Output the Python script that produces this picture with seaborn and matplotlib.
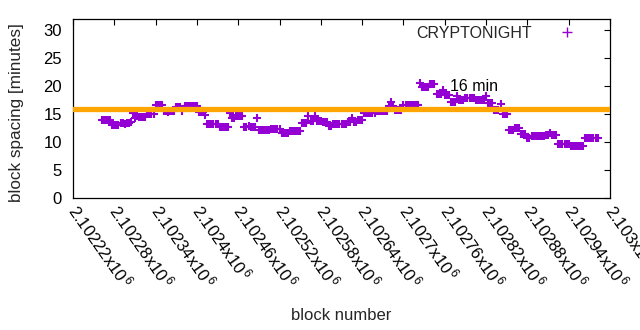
import numpy as np
import pandas as pd
import matplotlib
matplotlib.use("Agg")
import matplotlib.pyplot as plt
import matplotlib.ticker as mticker
from matplotlib.lines import Line2D
import seaborn as sns

# ---- data ----
first_block = 2102262
block_step = 3
spacing_minutes = [
    14.0, 14.0, 14.0, 14.0, 14.0, 13.0, 13.0, 13.0, 13.0, 13.4,
    13.4, 13.3, 13.4, 13.4, 13.5, 15.2, 14.3, 14.6, 14.5, 14.4,
    14.5, 14.5, 15.0, 15.0, 15.0, 15.0, 16.6, 16.6, 16.6, 16.6,
    15.5, 15.5, 15.4, 15.5, 15.5, 15.5, 16.3, 16.3, 16.3, 15.6,
    16.5, 16.5, 16.5, 16.5, 16.5, 16.5, 16.5, 15.4, 15.4, 15.4,
    14.8, 13.2, 13.2, 13.2, 13.2, 13.2, 13.2, 12.7, 12.7, 12.7,
    12.7, 12.7, 15.2, 14.3, 14.3, 14.6, 14.6, 14.6, 14.6, 12.7,
    12.7, 12.8, 12.7, 12.7, 12.7, 14.3, 12.1, 12.1, 12.1, 12.1,
    12.1, 12.1, 12.3, 12.3, 12.3, 12.3, 12.3, 11.6, 11.6, 11.6,
    11.6, 12.0, 12.0, 12.0, 12.0, 12.0, 12.0, 13.4, 13.4, 13.4,
    14.6, 13.8, 13.8, 14.6, 13.8, 13.8, 13.8, 13.5, 13.5, 13.5,
    12.9, 12.9, 13.3, 13.3, 13.3, 13.3, 13.3, 13.3, 13.3, 13.5,
    13.5, 14.3, 13.6, 13.6, 14.0, 14.0, 14.0, 15.2, 15.2, 15.2,
    15.2, 15.2, 15.2, 15.5, 15.5, 15.5, 15.5, 15.5, 15.5, 16.5,
    17.1, 16.5, 15.7, 15.7, 15.7, 15.7, 16.7, 16.7, 16.7, 16.7,
    16.7, 16.7, 16.7, 16.7, 20.5, 19.8, 19.8, 19.8, 19.8, 20.3,
    20.3, 20.3, 18.6, 18.6, 18.6, 19.3, 18.4, 18.4, 18.4, 17.2,
    17.2, 17.2, 18.2, 17.5, 17.5, 17.5, 17.9, 17.9, 17.9, 17.9,
    17.9, 17.6, 17.6, 17.6, 17.6, 17.6, 18.3, 17.0, 17.0, 17.0,
    15.7, 15.7, 15.7, 16.8, 15.1, 15.1, 15.1, 12.1, 12.1, 12.1,
    12.6, 12.6, 12.6, 11.4, 11.4, 11.4, 10.8, 10.8, 11.1, 11.1,
    11.1, 11.1, 11.1, 11.1, 11.1, 11.3, 11.3, 11.7, 11.3, 11.3,
    11.3, 9.7, 9.7, 9.7, 9.7, 9.7, 9.7, 9.3, 9.3, 9.3,
    9.3, 9.3, 9.3, 9.3, 10.7, 10.7, 10.7, 10.7, 10.7, 10.7,
    10.7,
]
block_numbers = list(range(first_block, first_block + block_step * len(spacing_minutes), block_step))
series_name = "CRYPTONIGHT"
target_minutes = 16
target_label = "16 min"
target_label_x = 2102767
target_label_y = 20
x_ticks = list(range(2102220, 2103001, 60))
y_ticks = [0, 5, 10, 15, 20, 25, 30]
x_limits = (2102220, 2103000)
y_limits = (0, 32)

df = pd.DataFrame({"block": block_numbers, "spacing": spacing_minutes})

# ---- style ----
sns.set_theme(style="white")
plt.rcParams["font.family"] = ["Liberation Sans", "DejaVu Sans"]
plt.rcParams["mathtext.fontset"] = "custom"
plt.rcParams["mathtext.rm"] = "Liberation Sans"
plt.rcParams["mathtext.it"] = "Liberation Sans"

fig = plt.figure(figsize=(6.4, 3.3), dpi=100)
ax = fig.add_axes([73 / 640, 132 / 330, 537 / 640, 179 / 330])

purple = "#9400D3"
orange = "#FFA500"

sns.scatterplot(data=df, x="block", y="spacing", marker="+", s=32,
                color=purple, linewidth=1.5, ax=ax, legend=False,
                zorder=2)
ax.axhline(target_minutes, color=orange, linewidth=3.8, zorder=3)
ax.text(target_label_x, target_label_y, target_label, fontsize=11.5,
        ha="left", va="center", color="black", zorder=4)

ax.set_xlim(*x_limits)
ax.set_ylim(*y_limits)
ax.set_xticks(x_ticks)
ax.set_yticks(y_ticks)
ax.xaxis.set_major_formatter(
    mticker.FuncFormatter(lambda v, p: f"{v / 1e6:g}x10$^{{\\,6}}$"))

for sp in ax.spines.values():
    sp.set_visible(True)
    sp.set_color("black")
    sp.set_linewidth(0.9)

ax.tick_params(axis="both", which="major", direction="in", length=4,
               width=0.8, top=True, right=True, colors="black",
               labelsize=12, labelcolor="black")
ax.tick_params(axis="x", pad=6)
ax.tick_params(axis="y", pad=8)
for lbl in ax.get_xticklabels():
    lbl.set_rotation(-55)
    lbl.set_ha("left")
    lbl.set_va("center")
    lbl.set_rotation_mode("anchor")

ax.set_xlabel("block number", fontsize=12, labelpad=8)
ax.set_ylabel("block spacing [minutes]", fontsize=12.3, labelpad=10)
ax.xaxis.set_label_coords(0.5, -0.615)
ax.yaxis.set_label_coords(-0.092, 0.48)

handle = Line2D([], [], marker="+", linestyle="none", color=purple,
                markersize=7, markeredgewidth=1.0)
ax.legend([handle], [series_name], loc="upper right",
          bbox_to_anchor=(0.95, 0.963), frameon=False, markerfirst=False,
          fontsize=11.5, handlelength=2.0, handletextpad=1.2,
          borderpad=0, borderaxespad=0)

fig.savefig("out.png", dpi=100)
